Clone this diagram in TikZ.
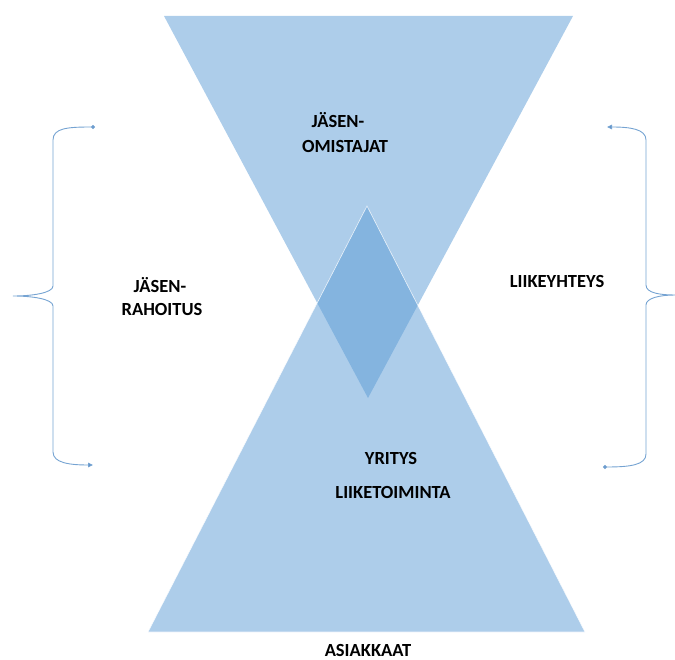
\documentclass[tikz,border=0pt]{standalone}
\usepackage{fontspec}
\setmainfont{Carlito}
\usetikzlibrary{arrows.meta}
\definecolor{shapeblue}{HTML}{5B9BD5}
\definecolor{bracecol}{HTML}{75A3D2}
\definecolor{tipcol}{HTML}{5A8CC4}
\begin{document}
\begin{tikzpicture}[x=1pt,y=-1pt,
  wedge/.style={fill=shapeblue,fill opacity=0.5},
  label/.style={font=\bfseries\fontsize{18.5}{22}\selectfont,anchor=base,text=black,inner sep=0pt},
  bracket/.style={draw=bracecol,line width=0.9pt,
    {Circle[length=4pt,fill=tipcol]}-{Triangle[length=5pt,width=4.5pt,fill=tipcol]}}]
\useasboundingbox (0,0) rectangle (675,660);

% the two overlapping triangles
\coordinate (tl) at (164,16);
\coordinate (tr) at (573,16);
\coordinate (tapex) at (368,398);
\coordinate (bl) at (148,632);
\coordinate (br) at (585,632);
\coordinate (bapex) at (367,206);
\fill[wedge] (tl) -- (tr) -- (tapex) -- cycle;
\filldraw[wedge,draw=white,draw opacity=0.8,line width=0.6pt] (bl) -- (br) -- (bapex) -- cycle;

% labels
\node[label] (jo1) at (338,128) {JÄSEN-};
\node[label] (jo2) at (345,153) {OMISTAJAT};
\node[label] (jr1) at (160,293) {JÄSEN-};
\node[label] (jr2) at (162,316) {RAHOITUS};
\node[label] (ly) at (557,288) {LIIKEYHTEYS};
\node[label] (yr) at (391,464) {YRITYS};
\node[label] (lt) at (393,498) {LIIKETOIMINTA};
\node[label] (as) at (368,656.5) {ASIAKKAAT};

% left bracket: dot at the top, arrow at the bottom
\coordinate (lt0) at (95,127);
\coordinate (ltip) at (13,296);
\coordinate (lb0) at (93,465);
\draw[bracket] (lt0) .. controls (68,127) and (53,128) .. (53,140)
  -- (53,286) .. controls (53,293) and (32,296) .. (ltip)
  .. controls (32,296) and (53,299) .. (53,306)
  -- (53,452) .. controls (53,463) and (70,465) .. (lb0);

% right bracket: dot at the bottom, arrow at the top
\coordinate (rt0) at (607,127);
\coordinate (rtip) at (675,295);
\coordinate (rb0) at (603,467);
\draw[bracket] (rb0) .. controls (630,467) and (646,465) .. (646,454)
  -- (646,305) .. controls (646,298) and (660,295) .. (rtip)
  .. controls (660,295) and (646,293) .. (646,285)
  -- (646,140) .. controls (646,129) and (630,127) .. (rt0);
\end{tikzpicture}
\end{document}
